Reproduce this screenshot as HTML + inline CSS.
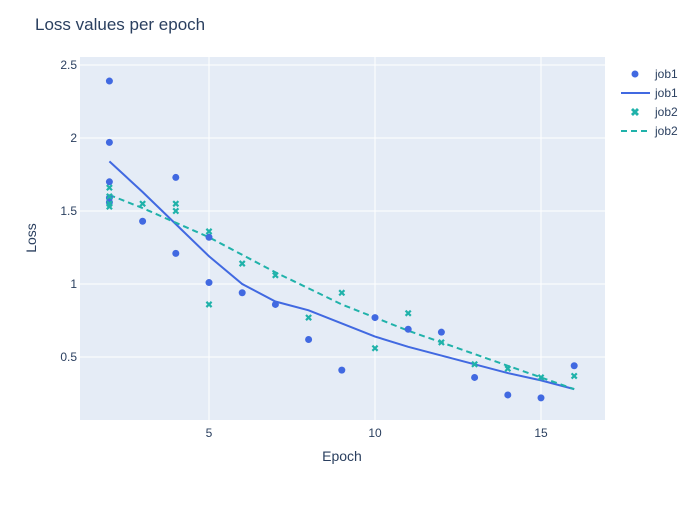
<!DOCTYPE html>
<html><head><meta charset="utf-8"><style>
body{margin:0;background:#fff;font-family:"Liberation Sans",sans-serif}
text{font-family:"Liberation Sans",sans-serif}
</style></head><body>
<svg id="chart" width="700" height="500" xmlns="http://www.w3.org/2000/svg">
<rect width="700" height="500" fill="#fff"/>
<rect x="80" y="57" width="525" height="363" fill="#e5ecf6"/>
<g id="grid"></g><g id="marks"></g><g id="axes"></g>
<text x="35" y="30" font-size="17" fill="#2a3f5f">Loss values per epoch</text>
<text x="342" y="461" font-size="14" fill="#2a3f5f" text-anchor="middle">Epoch</text>
<text x="36" y="238" font-size="14" fill="#2a3f5f" text-anchor="middle" transform="rotate(-90 36 238)">Loss</text>
<g id="legend" font-size="12" fill="#2a3f5f">
<g><circle cx="635" cy="74" r="3.5" fill="#4169e1"/><text x="655" y="78">job1</text></g>
<g><line x1="621" y1="93" x2="650" y2="93" stroke="#4169e1" stroke-width="2"/><text x="655" y="97">job1</text></g>
<g><text x="635" y="116" font-size="11" fill="#20b2aa" text-anchor="middle" font-weight="bold">✖</text><text x="655" y="116">job2</text></g>
<g><line x1="621" y1="131" x2="650" y2="131" stroke="#20b2aa" stroke-width="2" stroke-dasharray="6,4"/><text x="655" y="135">job2</text></g>
</g>
</svg>
<script>
const job1X=[2,2,2,2,2,3,4,4,5,5,6,7,8,9,10,11,12,13,14,15,16];
const job1Y=[2.39,1.97,1.70,1.59,1.56,1.43,1.73,1.21,1.32,1.01,0.94,0.86,0.62,0.41,0.77,0.69,0.67,0.36,0.24,0.22,0.44];
const job2X=[2,2,2,2,3,4,4,5,5,6,7,8,9,10,11,12,13,14,15,16];
const job2Y=[1.66,1.60,1.53,1.55,1.55,1.55,1.50,1.36,0.86,1.14,1.06,0.77,0.94,0.56,0.80,0.60,0.45,0.42,0.36,0.37];
const lineX=[2,3,4,5,6,7,8,9,10,11,12,13,14,15,16];
const job1Line=[1.84,1.63,1.41,1.19,1.0,0.88,0.82,0.73,0.64,0.57,0.51,0.45,0.39,0.34,0.28];
const job2Line=[1.61,1.52,1.42,1.32,1.20,1.08,0.97,0.86,0.77,0.68,0.60,0.52,0.44,0.36,0.28];
const xTicks=[5,10,15];
const yTicks=[0.5,1,1.5,2,2.5];
const xTickLabels=["5","10","15"];
const yTickLabels=["0.5","1","1.5","2","2.5"];
const sx=v=>209+(v-5)*33.2;
const sy=v=>430-146*v;
const NS="http://www.w3.org/2000/svg";
function mk(t,a,p){const e=document.createElementNS(NS,t);for(const k in a)e.setAttribute(k,a[k]);p.appendChild(e);return e;}
const grid=document.getElementById('grid'),axes=document.getElementById('axes'),marks=document.getElementById('marks');
xTicks.forEach((v,i)=>{
 const l=mk('line',{x1:sx(v),x2:sx(v),y1:57,y2:420,stroke:'#fff','stroke-width':1},grid);
 
 
 const t=mk('text',{x:sx(v),y:437,'font-size':12,fill:'#2a3f5f','text-anchor':'middle'},axes);t.textContent=xTickLabels[i];
 
 
});
yTicks.forEach((v,i)=>{
 const l=mk('line',{x1:80,x2:605,y1:sy(v),y2:sy(v),stroke:'#fff','stroke-width':1},grid);
 
 
 const t=mk('text',{x:77,y:sy(v)+4,'font-size':12,fill:'#2a3f5f','text-anchor':'end'},axes);t.textContent=yTickLabels[i];
 
 
});
const p1=mk('polyline',{points:lineX.map((x,i)=>sx(x)+','+sy(job1Line[i])).join(' '),fill:'none',stroke:'#4169e1','stroke-width':2},marks);


const p2=mk('polyline',{points:lineX.map((x,i)=>sx(x)+','+sy(job2Line[i])).join(' '),fill:'none',stroke:'#20b2aa','stroke-width':2,'stroke-dasharray':'6,4'},marks);


job1X.forEach((x,i)=>{
 const c=mk('circle',{cx:sx(x),cy:sy(job1Y[i]),r:3.5,fill:'#4169e1'},marks);
 
 
});
job2X.forEach((x,i)=>{
 const X=sx(x),Y=sy(job2Y[i]),d=2.6;
 const p=mk('path',{d:`M${X-d},${Y-d}L${X+d},${Y+d}M${X+d},${Y-d}L${X-d},${Y+d}`,stroke:'#20b2aa','stroke-width':2.2,fill:'none'},marks);
 
 
});
</script>
</body></html>
